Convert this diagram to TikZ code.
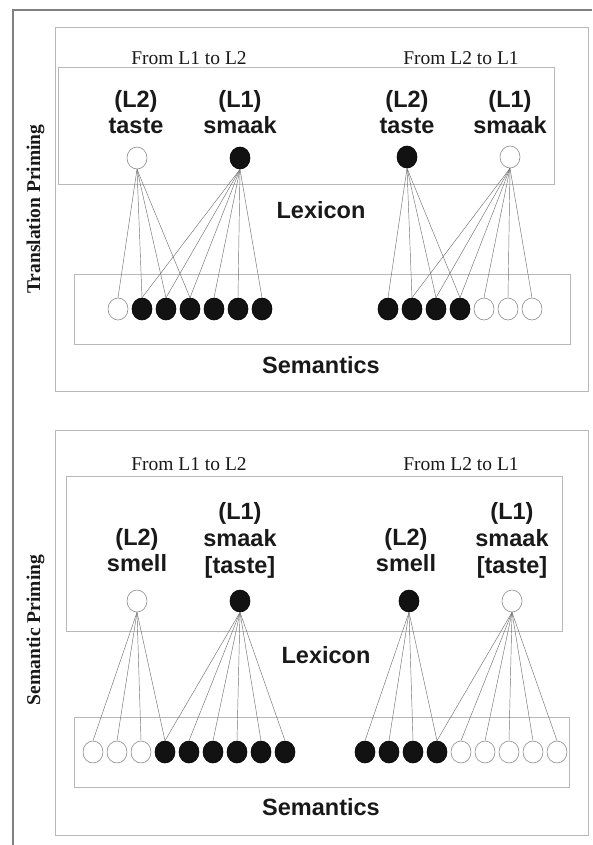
\documentclass[tikz,border=0pt]{standalone}
\usepackage{fontspec}
\setmainfont{Liberation Serif}
\setsansfont{Liberation Sans}
\usetikzlibrary{shapes.geometric}
\begin{document}
\begin{tikzpicture}[x=1pt,y=-1pt,
  boxline/.style={draw=black!28, line width=0.9pt},
  frameline/.style={draw=black!50, line width=1.1pt},
  head/.style={font=\fontsize{19.5}{22}\selectfont, text=black!90, anchor=base, inner sep=0pt},
  word/.style={font=\sffamily\bfseries\fontsize{23.5}{27}\selectfont, text=black!90, anchor=base, inner sep=0pt},
  side/.style={font=\bfseries\fontsize{19.5}{22}\selectfont, text=black!90, rotate=90, inner sep=0pt, anchor=base},
  actnode/.style={ellipse, draw=black, fill=black!93, line width=0.6pt, minimum width=20pt, minimum height=22pt, inner sep=0pt},
  idlenode/.style={ellipse, draw=black!45, fill=white, line width=0.6pt, minimum width=20pt, minimum height=22pt, inner sep=0pt},
  link/.style={draw=black!55, line width=0.45pt}]
\useasboundingbox (0,0) rectangle (592,845);
\fill[white] (0,0) rectangle (592,845);
% frame
\draw[frameline] (592,10) -- (13,10) -- (13,845);
% ================= top panel =================
\draw[boxline] (55,27) rectangle (588,391);
\draw[boxline] (58,67) rectangle (554,184);
\draw[boxline] (74,274) rectangle (570,344);
\node[side] (sideT) at (40,209) {Translation Priming};
\node[head] (hTL) at (189,65) {From L1 to L2};
\node[head] (hTR) at (461,65) {From L2 to L1};
\node[word] (wTa1) at (136,108) {(L2)};
\node[word] (wTa2) at (136,134) {taste};
\node[word] (wTb1) at (240,108) {(L1)};
\node[word] (wTb2) at (240,134) {smaak};
\node[word] (wTc1) at (407,108) {(L2)};
\node[word] (wTc2) at (407,134) {taste};
\node[word] (wTd1) at (510,108) {(L1)};
\node[word] (wTd2) at (510,134) {smaak};
\node[word] (lexT) at (321,218) {Lexicon};
\node[word] (semT) at (321,373) {Semantics};
\node[idlenode] (tA) at (137,158) {};
\node[actnode]  (tB) at (240,158) {};
\node[actnode]  (tC) at (407,157) {};
\node[idlenode] (tD) at (510,157) {};
\foreach \i in {1,...,7}{
  \pgfmathsetmacro{\xx}{118+24*(\i-1)}
  \ifnum\i=1 \node[idlenode] (sA\i) at (\xx,309) {};
  \else \node[actnode] (sA\i) at (\xx,309) {}; \fi
  \pgfmathsetmacro{\xy}{388+24*(\i-1)}
  \ifnum\i<5 \node[actnode] (sB\i) at (\xy,309) {};
  \else \node[idlenode] (sB\i) at (\xy,309) {}; \fi
}
\foreach \i in {1,...,4}{\draw[link] (tA.south) -- (sA\i.north); \draw[link] (tC.south) -- (sB\i.north);}
\foreach \i in {2,...,7}{\draw[link] (tB.south) -- (sA\i.north); \draw[link] (tD.south) -- (sB\i.north);}
% ================= bottom panel =================
\draw[boxline] (55,430) rectangle (588,835);
\draw[boxline] (66,476) rectangle (562,631);
\draw[boxline] (74,717) rectangle (569,787);
\node[side] (sideB) at (40,630) {Semantic Priming};
\node[head] (hBL) at (189,470) {From L1 to L2};
\node[head] (hBR) at (461,470) {From L2 to L1};
\node[word] (wBa1) at (137,545) {(L2)};
\node[word] (wBa2) at (137,571) {smell};
\node[word] (wBb1) at (240,519) {(L1)};
\node[word] (wBb2) at (240,546) {smaak};
\node[word] (wBb3) at (240,573) {[taste]};
\node[word] (wBc1) at (406,545) {(L2)};
\node[word] (wBc2) at (406,571) {smell};
\node[word] (wBd1) at (512,519) {(L1)};
\node[word] (wBd2) at (512,546) {smaak};
\node[word] (wBd3) at (512,573) {[taste]};
\node[word] (lexB) at (326,663) {Lexicon};
\node[word] (semB) at (321,815) {Semantics};
\node[idlenode] (bA) at (137,601) {};
\node[actnode]  (bB) at (240,601) {};
\node[actnode]  (bC) at (409,601) {};
\node[idlenode] (bD) at (512,601) {};
\foreach \i in {1,...,9}{
  \pgfmathsetmacro{\xx}{93+24*(\i-1)}
  \ifnum\i<4 \node[idlenode] (cA\i) at (\xx,752) {};
  \else \node[actnode] (cA\i) at (\xx,752) {}; \fi
  \pgfmathsetmacro{\xy}{365+24*(\i-1)}
  \ifnum\i<5 \node[actnode] (cB\i) at (\xy,752) {};
  \else \node[idlenode] (cB\i) at (\xy,752) {}; \fi
}
\foreach \i in {1,...,4}{\draw[link] (bA.south) -- (cA\i.north); \draw[link] (bC.south) -- (cB\i.north);}
\foreach \i in {4,...,9}{\draw[link] (bB.south) -- (cA\i.north); \draw[link] (bD.south) -- (cB\i.north);}
\end{tikzpicture}
\end{document}
